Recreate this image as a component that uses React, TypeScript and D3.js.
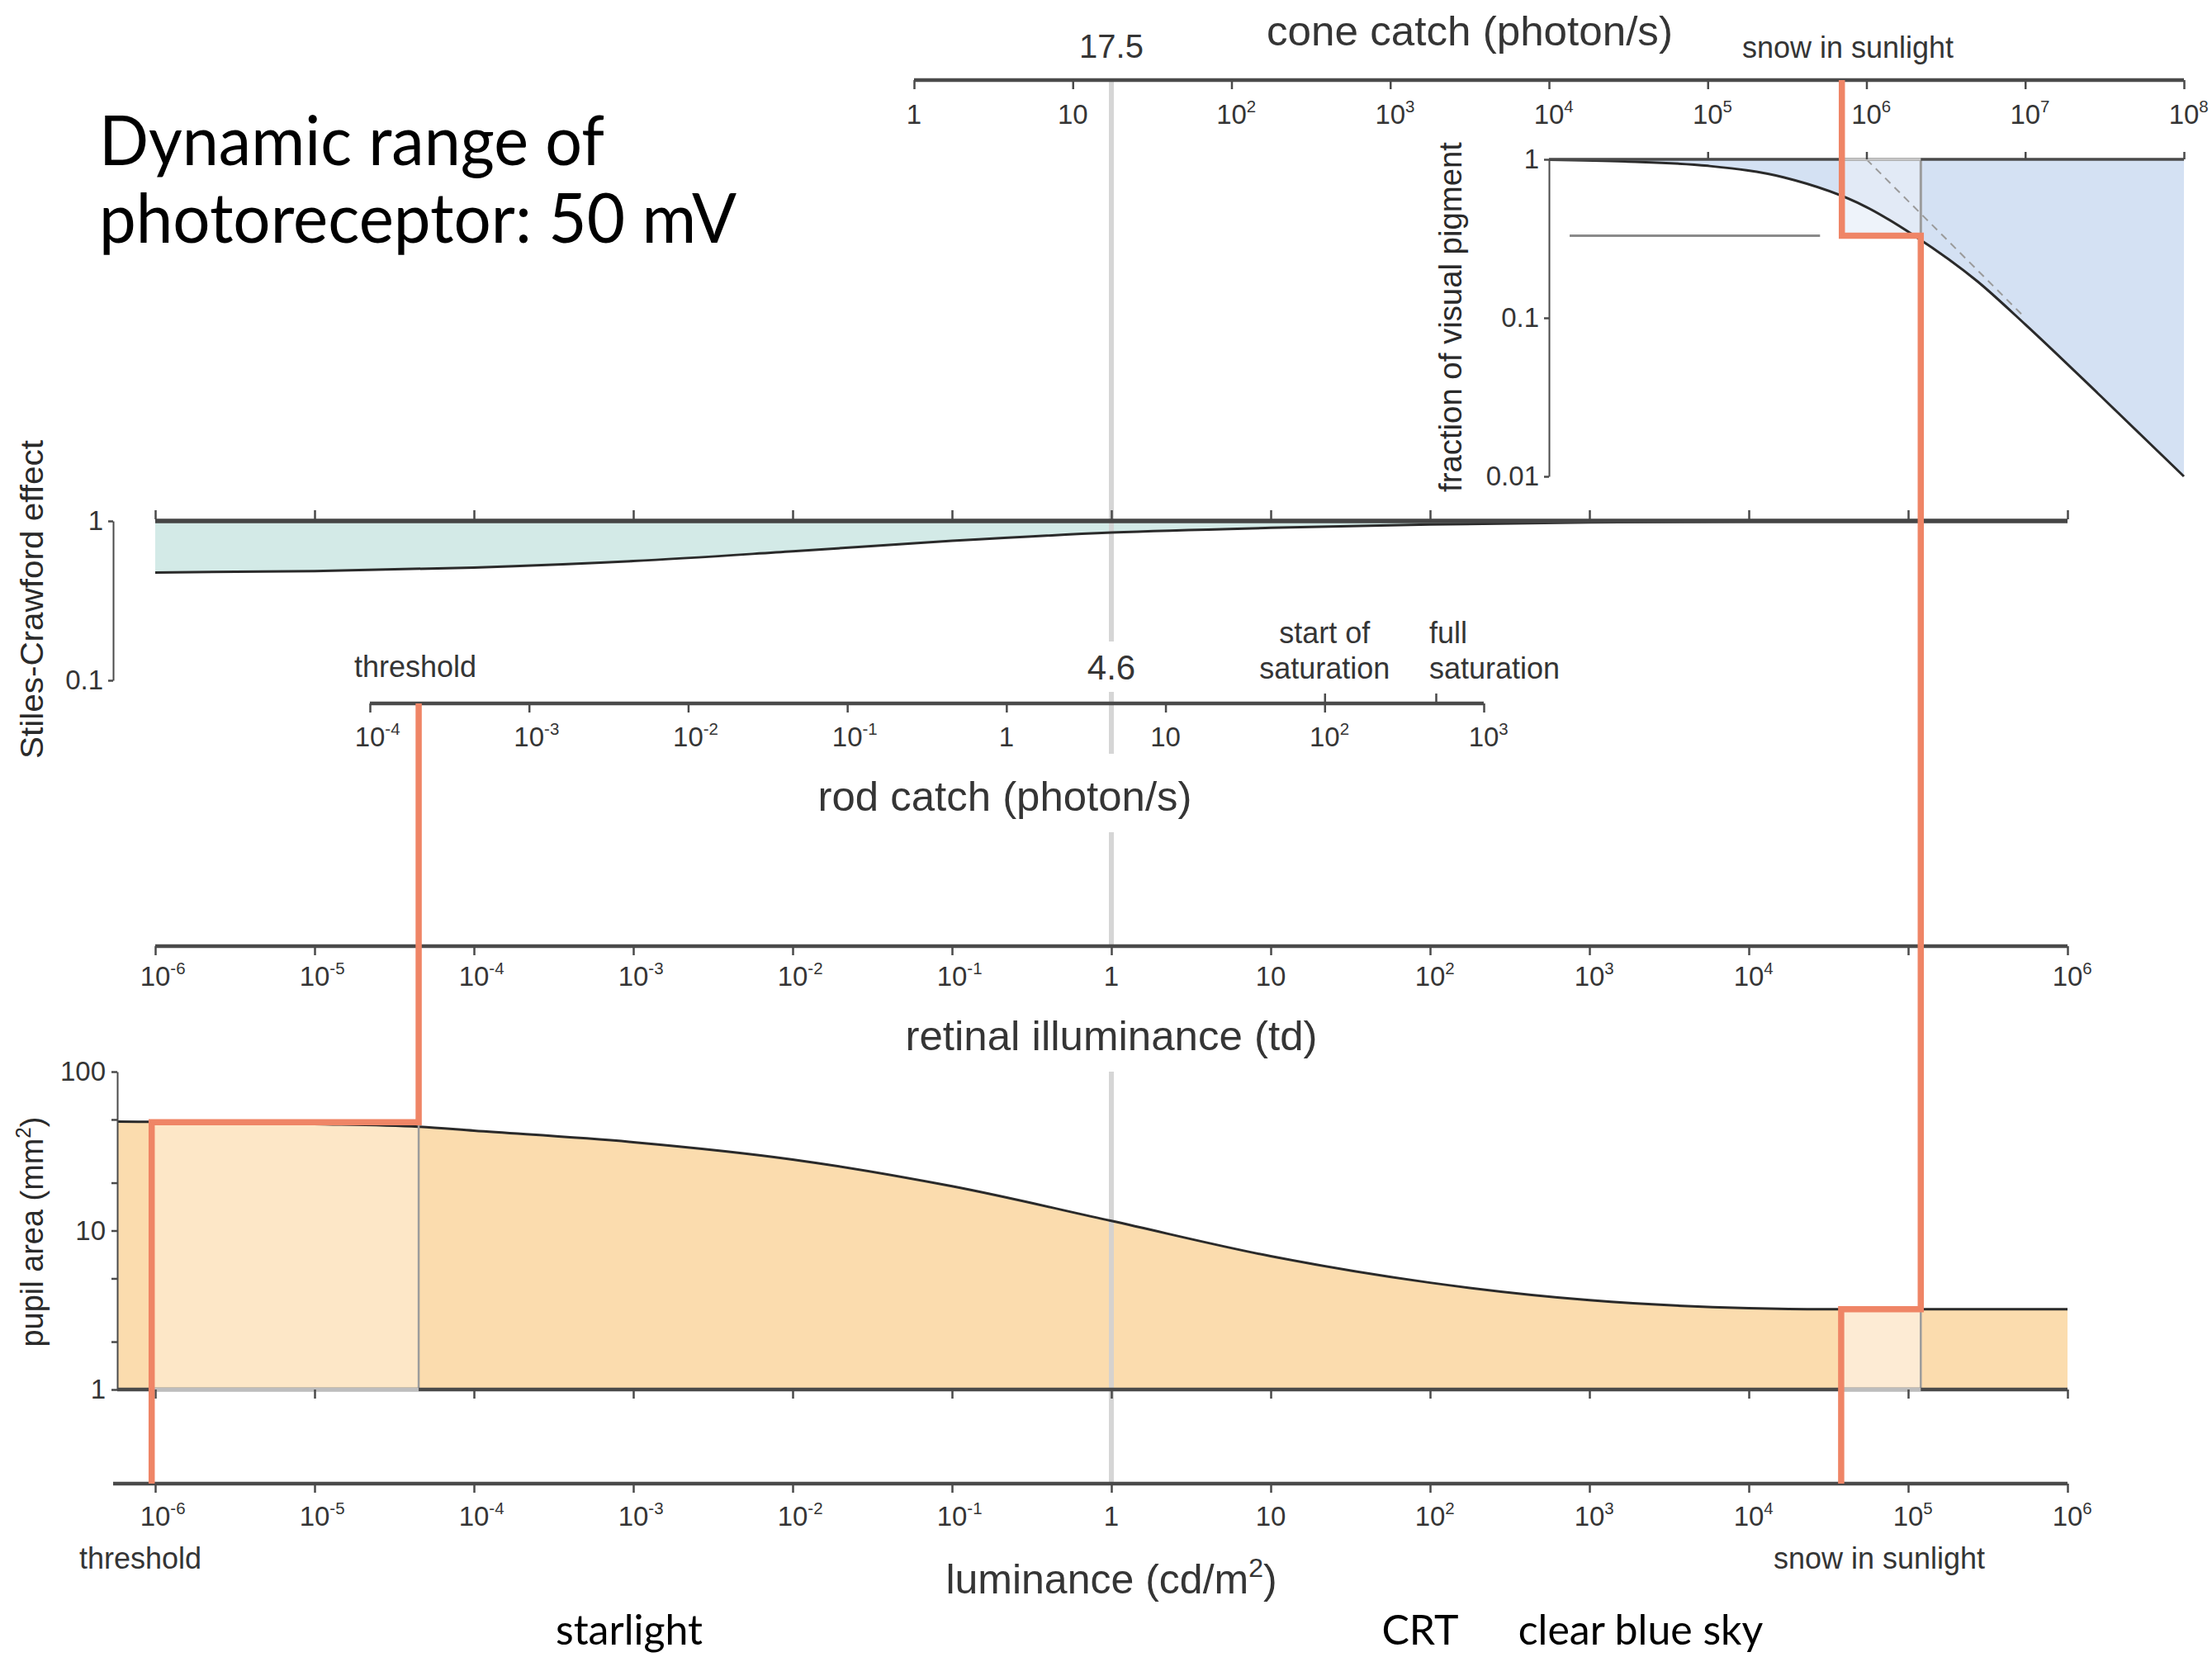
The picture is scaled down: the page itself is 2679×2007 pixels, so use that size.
import React, { useEffect, useRef } from 'react'
import * as d3 from 'd3'

const W = 2679
const H = 2007

// decades shared by the luminance and retinal illuminance axes
const lumDecades = [1e-6, 1e-5, 1e-4, 1e-3, 1e-2, 1e-1, 1, 10, 1e2, 1e3, 1e4, 1e5, 1e6]
const retinalLabelled = [1e-6, 1e-5, 1e-4, 1e-3, 1e-2, 1e-1, 1, 10, 1e2, 1e3, 1e4, 1e6]
const coneDecades = [1, 10, 1e2, 1e3, 1e4, 1e5, 1e6, 1e7, 1e8]
const rodDecades = [1e-4, 1e-3, 1e-2, 1e-1, 1, 10, 1e2, 1e3]
const insetTopTicks = [1e5, 1e6, 1e7, 1e8]
const pigmentTicks = [1, 0.1, 0.01]
const scTicks = [1, 0.1]
const pupilTicks = [1, 2, 5, 10, 20, 50, 100]
const pupilLabelled = [1, 10, 100]

// pupil area (mm2) against luminance (cd/m2)
const pupilLum = [5.8e-7, 1e-6, 1e-5, 4.5e-5, 1e-4, 1e-3, 1e-2, 1e-1, 1, 10, 1e2, 1e3, 1e4, 3e4, 1e6]
const pupilArea = [48.5, 48.3, 46.8, 45, 42.5, 36, 28, 19, 11.5, 6.9, 4.7, 3.65, 3.25, 3.2, 3.2]

// Stiles-Crawford effect against retinal illuminance (td)
const scRetinal = [1e-6, 1e-5, 1e-4, 1e-3, 1e-2, 1e-1, 1, 10, 1e2, 1e3, 1e4, 1e5, 1e6]
const scValue = [0.475, 0.485, 0.51, 0.56, 0.645, 0.75, 0.845, 0.905, 0.95, 0.98, 0.995, 1, 1]

// fraction of visual pigment against cone catch (photon/s)
const pigmentCatch = [1e4, 3e4, 1e5, 3e5, 1e6, 2e6, 5e6, 1e7, 3e7, 1e8]
const pigmentFraction = [0.995, 0.97, 0.91, 0.77, 0.5, 0.33, 0.17, 0.091, 0.032, 0.01]
const asymptoteCatch = [1e6, 1e7]
const asymptoteFraction = [1, 0.1]
const markCatch = [1.35e4, 5.1e5]

// the two worked examples
const threshold = { lum: 9.5e-7, pupil: 48, retinal: 4.5e-5 }
const snow = { lum: 3.8e4, pupil: 3.2, retinal: 1.2e5, cone: 2.2e6, fraction: 0.33, coneBleached: 7.0e5 }
const rodSaturation = [1e2, 5e2]
const refRetinal = 1 // 1 td = 17.5 cone photon/s = 4.6 rod photon/s

const SANS = "'Liberation Sans', Arial, Helvetica, sans-serif"
const GILL = "Lato, 'Open Sans', sans-serif"
const AXIS = '#4a4a4a'
const TEXT = '#353535'
const ORANGE = '#ef8566'

export default function App() {
    const ref = useRef<SVGSVGElement>(null)
    useEffect(() => {
        if (ref.current) makeChart(ref.current)
    }, [])
    return (
        <svg ref={ref} width={W} height={H}
            style={{ position: 'absolute', left: 0, top: 0, background: '#fff' }} />
    )
}

function makeChart(el: SVGSVGElement) {
    const svg = d3.select(el)
    svg.selectAll('*').remove()
    const defs = svg.append('defs')

    const xLum = d3.scaleLog().domain([1e-6, 1e6]).range([188, 2504])
    const xCone = d3.scaleLog().domain([1, 1e8]).range([1107, 2645])
    const xRod = d3.scaleLog().domain([1e-4, 1e3]).range([448, 1797])
    const yPig = d3.scaleLog().domain([0.01, 1]).range([577, 193])
    const ySC = d3.scaleLog().domain([0.1, 1]).range([824, 631])
    const yPup = d3.scaleLog().domain([1, 100]).range([1683, 1298])

    const coneY = 97
    const rodY = 852
    const retY = 1146
    const lumY = 1797
    const pupilLeft = 142
    const scLeft = 137

    const idx = (a: number[]) => d3.range(a.length)

    const hline = (x1: number, x2: number, y: number, stroke: string, w: number) =>
        svg.append('line').attr('x1', x1).attr('x2', x2).attr('y1', y).attr('y2', y)
            .attr('stroke', stroke).attr('stroke-width', w)
    const vline = (x: number, y1: number, y2: number, stroke: string, w: number) =>
        svg.append('line').attr('x1', x).attr('x2', x).attr('y1', y1).attr('y2', y2)
            .attr('stroke', stroke).attr('stroke-width', w)

    const ticks = (axis: any, tx: number, ty: number) => {
        const g = svg.append('g').attr('transform', `translate(${tx},${ty})`).call(axis)
        g.selectAll('.tick line').attr('stroke', AXIS).attr('stroke-width', 2.5)
        g.selectAll('.tick text').remove()
        return g
    }

    const label = (x: number, y: number, s: string, size: number, anchor = 'middle', fill = TEXT, family = SANS) =>
        svg.append('text').attr('x', x).attr('y', y).attr('text-anchor', anchor)
            .attr('font-family', family).attr('font-size', size).attr('fill', fill).text(s)

    const fs = 33
    const powerLabel = (x: number, y: number, v: number) => {
        const e = Math.round(Math.log10(v))
        if (e === 0 || e === 1) return label(x, y, e === 0 ? '1' : '10', fs)
        const t = svg.append('text').attr('x', x - fs * 0.556).attr('y', y)
            .attr('font-family', SANS).attr('font-size', fs).attr('fill', TEXT)
        t.append('tspan').text('10')
        t.append('tspan').attr('font-size', fs * 0.62).attr('dy', -fs * 0.42).text(String(e))
        return t
    }

    // ---------- pupil area panel ----------
    const pupilGen = d3.area<number>()
        .x(i => xLum(pupilLum[i])).y0(yPup(1)).y1(i => yPup(pupilArea[i]))
        .curve(d3.curveMonotoneX)
    svg.append('path').datum(idx(pupilLum)).attr('d', pupilGen).attr('fill', '#fbdcae')
    svg.append('rect')
        .attr('x', xLum(threshold.lum)).attr('y', yPup(threshold.pupil))
        .attr('width', xLum(threshold.retinal) - xLum(threshold.lum))
        .attr('height', yPup(1) - yPup(threshold.pupil)).attr('fill', '#fde7c7')
    svg.append('rect')
        .attr('x', xLum(snow.lum)).attr('y', yPup(snow.pupil))
        .attr('width', xLum(snow.retinal) - xLum(snow.lum))
        .attr('height', yPup(1) - yPup(snow.pupil)).attr('fill', '#fdebd4')

    // ---------- Stiles-Crawford panel ----------
    const scGen = d3.area<number>()
        .x(i => xLum(scRetinal[i])).y0(ySC(1)).y1(i => ySC(scValue[i]))
        .curve(d3.curveMonotoneX)
    svg.append('path').datum(idx(scRetinal)).attr('d', scGen).attr('fill', '#d3eae7')

    // ---------- visual pigment inset ----------
    const pigGen = d3.area<number>()
        .x(i => xCone(pigmentCatch[i])).y0(yPig(1)).y1(i => yPig(pigmentFraction[i]))
        .curve(d3.curveMonotoneX)
    svg.append('path').datum(idx(pigmentCatch)).attr('d', pigGen).attr('fill', '#d4e1f3')
    const bx = xCone(snow.coneBleached)
    const bw = xCone(snow.cone) - bx
    svg.append('rect').attr('x', bx).attr('y', yPig(1)).attr('width', bw)
        .attr('height', yPig(snow.fraction) - yPig(1)).attr('fill', '#eef3fa')
    defs.append('clipPath').attr('id', 'bleach').append('rect')
        .attr('x', bx).attr('y', yPig(1) - 2).attr('width', bw).attr('height', yPig(0.01))
    svg.append('path').datum(idx(pigmentCatch)).attr('d', pigGen)
        .attr('fill', '#e2eaf6').attr('clip-path', 'url(#bleach)')

    // ---------- reference line at 1 td ----------
    const rx = xLum(refRetinal)
    const refSegments = [[coneY, 777], [838, 913], [1008, retY], [1298, lumY]]
    refSegments.forEach(([a, b]) => vline(rx, a, b, '#d2d2d2', 6).attr('opacity', 0.9))

    // ---------- curves ----------
    const curve = (xs: number[], ys: number[], fx: any, fy: any) =>
        svg.append('path').datum(idx(xs))
            .attr('d', d3.line<number>().x(i => fx(xs[i])).y(i => fy(ys[i])).curve(d3.curveMonotoneX))
            .attr('fill', 'none').attr('stroke', '#2a2a2a').attr('stroke-width', 3)
    curve(pupilLum, pupilArea, xLum, yPup)
    curve(scRetinal, scValue, xLum, ySC)
    curve(pigmentCatch, pigmentFraction, xCone, yPig)

    svg.append('path').datum(idx(asymptoteCatch))
        .attr('d', d3.line<number>().x(i => xCone(asymptoteCatch[i])).y(i => yPig(asymptoteFraction[i])))
        .attr('fill', 'none').attr('stroke', '#9a9a9a').attr('stroke-width', 2).attr('stroke-dasharray', '9 7')

    // gray markers
    vline(xLum(threshold.retinal), yPup(threshold.pupil), yPup(1), '#9c9c9c', 2.5)
    vline(xLum(snow.retinal), yPup(snow.pupil), yPup(1), '#9c9c9c', 2.5)
    vline(xCone(snow.cone), yPig(1), yPig(snow.fraction), '#9c9c9c', 3)
    hline(xCone(markCatch[0]), xCone(markCatch[1]), yPig(snow.fraction), '#8a8a8a', 3)

    // ---------- axes ----------
    // cone catch
    hline(xCone(1), xCone(1e8), coneY, AXIS, 4.5)
    ticks(d3.axisBottom(xCone).tickValues(coneDecades).tickSize(11).tickSizeOuter(0), 0, coneY)
        .select('.domain').remove()
    coneDecades.forEach(v => powerLabel(xCone(v), 150, v))

    // inset axes
    hline(xCone(1e4), xCone(1e8), yPig(1), AXIS, 3.5)
    hline(bx, bx + bw, yPig(1), '#c6c6c6', 3.5)
    ticks(d3.axisTop(xCone).tickValues(insetTopTicks).tickSize(9).tickSizeOuter(0), 0, yPig(1))
        .select('.domain').remove()
    const pigAxis = ticks(d3.axisLeft(yPig).tickValues(pigmentTicks).tickSize(6).tickSizeOuter(0), xCone(1e4), 0)
    pigAxis.select('.domain').attr('stroke', AXIS).attr('stroke-width', 2)
    pigmentTicks.forEach(v => label(xCone(1e4) - 12, yPig(v) + 11, String(v), fs, 'end'))

    // Stiles-Crawford
    hline(xLum(1e-6), xLum(1e6), ySC(1), '#454545', 5.5)
    ticks(d3.axisTop(xLum).tickValues(lumDecades).tickSize(11).tickSizeOuter(0), 0, ySC(1) - 2)
        .select('.domain').remove()
    const scAxis = ticks(d3.axisLeft(ySC).tickValues(scTicks).tickSize(6).tickSizeOuter(0), scLeft, 0)
    scAxis.select('.domain').attr('stroke', AXIS).attr('stroke-width', 2)
    scTicks.forEach(v => label(scLeft - 12, ySC(v) + 11, String(v), fs, 'end'))

    // rod catch
    hline(xRod(1e-4), xRod(1e3), rodY, AXIS, 4.5)
    ticks(d3.axisBottom(xRod).tickValues(rodDecades).tickSize(11).tickSizeOuter(0), 0, rodY)
        .select('.domain').remove()
    ticks(d3.axisTop(xRod).tickValues(rodSaturation).tickSize(12).tickSizeOuter(0), 0, rodY)
        .select('.domain').remove()
    rodDecades.forEach(v => powerLabel(xRod(v), 904, v))

    // retinal illuminance
    hline(xLum(1e-6), xLum(1e6), retY, AXIS, 4.5)
    ticks(d3.axisBottom(xLum).tickValues(lumDecades).tickSize(11).tickSizeOuter(0), 0, retY)
        .select('.domain').remove()
    retinalLabelled.forEach(v => powerLabel(xLum(v), 1194, v))

    // pupil area
    hline(pupilLeft, xLum(1e6), yPup(1), AXIS, 4.5)
    hline(xLum(threshold.lum), xLum(threshold.retinal), yPup(1), '#bdbdbd', 4.5)
    hline(xLum(snow.lum), xLum(snow.retinal), yPup(1), '#bdbdbd', 4.5)
    ticks(d3.axisBottom(xLum).tickValues(lumDecades).tickSize(11).tickSizeOuter(0), 0, yPup(1))
        .select('.domain').remove()
    const pupAxis = ticks(d3.axisLeft(yPup).tickValues(pupilTicks).tickSize(7).tickSizeOuter(0), pupilLeft, 0)
    pupAxis.select('.domain').attr('stroke', AXIS).attr('stroke-width', 2)
    pupilLabelled.forEach(v => label(pupilLeft - 14, yPup(v) + 11, String(v), fs, 'end'))

    // luminance
    hline(scLeft, xLum(1e6), lumY, AXIS, 4.5)
    ticks(d3.axisBottom(xLum).tickValues(lumDecades).tickSize(11).tickSizeOuter(0), 0, lumY)
        .select('.domain').remove()
    lumDecades.forEach(v => powerLabel(xLum(v), 1848, v))

    // ---------- orange trace ----------
    const trace = d3.line()
    const traceStyle = (p: any) => p.attr('fill', 'none').attr('stroke', ORANGE)
        .attr('stroke-width', 7.5).attr('stroke-linejoin', 'miter')
    traceStyle(svg.append('path').attr('d', trace([
        [xLum(threshold.retinal), rodY],
        [xLum(threshold.retinal), yPup(threshold.pupil)],
        [xLum(threshold.lum), yPup(threshold.pupil)],
        [xLum(threshold.lum), lumY],
    ])))
    traceStyle(svg.append('path').attr('d', trace([
        [xLum(snow.lum), lumY],
        [xLum(snow.lum), yPup(snow.pupil)],
        [xLum(snow.retinal), yPup(snow.pupil)],
        [xLum(snow.retinal), yPig(snow.fraction)],
        [xCone(snow.coneBleached), yPig(snow.fraction)],
        [xCone(snow.coneBleached), coneY],
    ])))

    // ---------- text ----------
    label(1780, 55, 'cone catch (photon/s)', 50).attr('textLength', 492).attr('lengthAdjust', 'spacingAndGlyphs')
    label(rx, 70, '17.5', 40)
    label(2238, 70, 'snow in sunlight', 36)
    label(xLum(threshold.retinal) - 4, 820, 'threshold', 36)
    label(rx, 823, '4.6', 42)
    label(xRod(rodSaturation[0]), 779, 'start of', 36)
    label(xRod(rodSaturation[0]), 822, 'saturation', 36)
    label(xRod(rodSaturation[1]) - 8, 779, 'full', 36, 'start')
    label(xRod(rodSaturation[1]) - 8, 822, 'saturation', 36, 'start')
    label(1217, 982, 'rod catch (photon/s)', 50).attr('textLength', 453).attr('lengthAdjust', 'spacingAndGlyphs')
    label(rx, 1272, 'retinal illuminance (td)', 50).attr('textLength', 499).attr('lengthAdjust', 'spacingAndGlyphs')

    const lumTitle = svg.append('text').attr('x', rx).attr('y', 1930).attr('text-anchor', 'middle')
        .attr('font-family', SANS).attr('font-size', 50).attr('fill', TEXT)
    lumTitle.append('tspan').text('luminance (cd/m')
    lumTitle.append('tspan').attr('font-size', 32).attr('dy', -20).text('2')
    lumTitle.append('tspan').attr('dy', 20).text(')')

    label(170, 1900, 'threshold', 36)
    label(2276, 1900, 'snow in sunlight', 36)

    const rotated = (x: number, y: number, parts: [string, boolean][], len: number) => {
        const t = svg.append('text').attr('transform', `translate(${x},${y}) rotate(-90)`)
            .attr('text-anchor', 'middle').attr('font-family', SANS).attr('font-size', 39)
            .attr('fill', '#2a2a2a').attr('textLength', len).attr('lengthAdjust', 'spacingAndGlyphs')
        parts.forEach(([s, sup]) => {
            const ts = t.append('tspan').text(s)
            if (sup) ts.attr('font-size', 25).attr('dy', -15)
            else if (s === ')') ts.attr('dy', 15)
        })
    }
    rotated(52, 726, [['Stiles-Crawford effect', false]], 386)
    rotated(1770, 384, [['fraction of visual pigment', false]], 424)
    rotated(52, 1492, [['pupil area (mm', false], ['2', true], [')', false]], 279)

    label(120, 200, 'Dynamic range of', 84, 'start', '#000', GILL)
        .attr('textLength', 612).attr('lengthAdjust', 'spacingAndGlyphs')
    label(120, 294, 'photoreceptor: 50 mV', 84, 'start', '#000', GILL)
        .attr('textLength', 772).attr('lengthAdjust', 'spacingAndGlyphs')

    label(762, 1992, 'starlight', 50, 'middle', '#000', GILL)
    label(1720, 1992, 'CRT', 50, 'middle', '#000', GILL)
    label(1987, 1992, 'clear blue sky', 50, 'middle', '#000', GILL)
}
